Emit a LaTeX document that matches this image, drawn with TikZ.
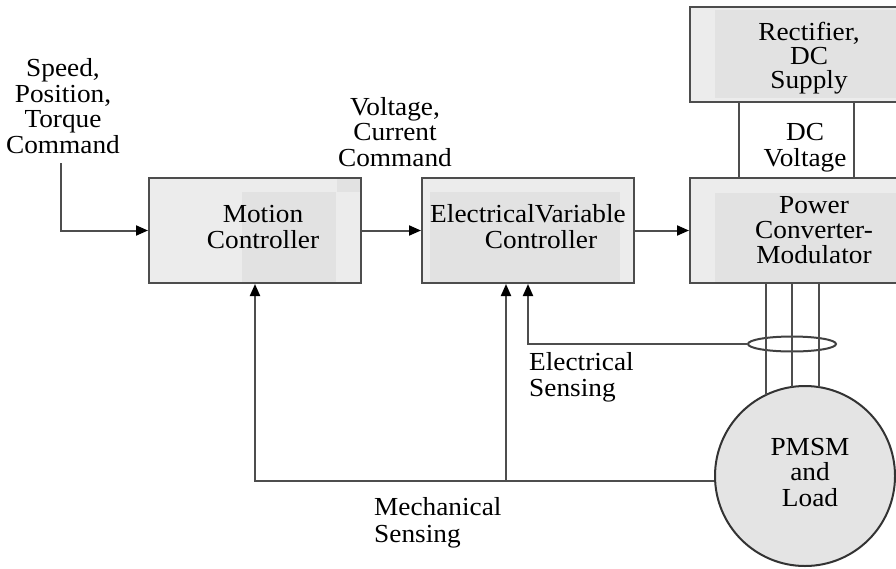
\documentclass[tikz,border=0pt]{standalone}
\usepackage{fontspec}
\setmainfont{Liberation Serif}[FakeStretch=1.05]
\usetikzlibrary{arrows.meta,shapes.geometric}
\definecolor{boxfill}{HTML}{ECECEC}
\definecolor{boxinner}{HTML}{E2E2E2}
\definecolor{linec}{HTML}{4D4D4D}
\definecolor{circfill}{HTML}{E4E4E4}
\begin{document}
\begin{tikzpicture}[x=1pt,y=-1pt,
  txt/.style={font=\fontsize{26}{25.5}\selectfont, align=center, inner sep=0pt, anchor=base},
  ltxt/.style={txt, align=left, anchor=base west},
  blk/.style={draw=linec, line width=2pt, fill=boxfill, inner sep=0pt, rectangle},
  shade/.style={fill=boxinner},
  ln/.style={draw=linec, line width=2pt},
  arr/.style={ln, -{Triangle[length=12pt,width=10pt,color=black]}},
]
\clip (0,0) rectangle (896,568);
\fill[white] (0,0) rectangle (896,568);

% blocks
\node[blk, minimum width=212pt, minimum height=105pt] (mc) at (255,230.5) {};
\node[blk, minimum width=212pt, minimum height=105pt] (evc) at (528,230.5) {};
\node[blk, minimum width=215pt, minimum height=105pt] (pc) at (797.5,230.5) {};
\node[blk, minimum width=215pt, minimum height=95pt] (rect) at (797.5,54.5) {};
\node[draw=black!80, line width=2pt, fill=circfill, circle, minimum size=180pt, inner sep=0pt] (pmsm) at (805,476) {};
\node[draw=black!75, line width=2pt, ellipse, minimum width=88pt, minimum height=15pt, inner sep=0pt] (es) at (792,344) {};

% inner shading of the blocks
\fill[shade] (242,192) rectangle (336,282);
\fill[shade] (337,179) rectangle (360,192);
\fill[shade] (430,192) rectangle (620,282);
\fill[shade] (715,193) rectangle (900,282);
\fill[shade] (715,10) rectangle (900,98);

% texts (anchor = baseline of the last line)
\node[txt] (tcmd) at (63,153) {Speed,\\Position,\\Torque\\Command};
\node[txt] (tvc) at (395,166) {Voltage,\\Current\\Command};
\node[txt] (tmc) at (263,248) {Motion\\Controller};
\node[txt] (tevc) at (528,248) {ElectricalVariable\\\hspace*{26pt}Controller};
\node[txt, font=\fontsize{26}{24}\selectfont] (trect) at (809,88) {Rectifier,\\DC\\Supply};
\node[txt] (tdc) at (805,166) {DC\\Voltage};
\node[txt, font=\fontsize{26}{25}\selectfont] (tpc) at (814,263) {Power\\Converter-\\Modulator};
\node[txt] (tpm) at (810,506) {PMSM\\and\\Load};
\node[ltxt] (tes) at (529,396) {Electrical\\Sensing};
\node[ltxt, font=\fontsize{26}{27}\selectfont] (tms) at (374,542) {Mechanical\\Sensing};

% coordinates
\coordinate (cmdtop) at (61,163);
\coordinate (dcl) at (739,0);
\coordinate (dcr) at (854,0);
\coordinate (w1) at (766,395);
\coordinate (w2) at (792,387);
\coordinate (w3) at (819,387);
\coordinate (mtap) at (506,481);

% connectors
\draw[arr] (cmdtop) |- (mc.west);
\draw[arr] (mc.east) -- (evc.west);
\draw[arr] (evc.east) -- (pc.west);
\draw[ln] (rect.south -| dcl) -- (pc.north -| dcl);
\draw[ln] (rect.south -| dcr) -- (pc.north -| dcr);
\foreach \w in {w1,w2,w3} \draw[ln] (pc.south -| \w) -- (\w);
\draw[arr] (es.west) -| (evc.south);
\draw[arr] (pmsm.183) -| (mc.south);
\draw[arr] (mtap) -- (mtap |- evc.south);
\end{tikzpicture}
\end{document}
